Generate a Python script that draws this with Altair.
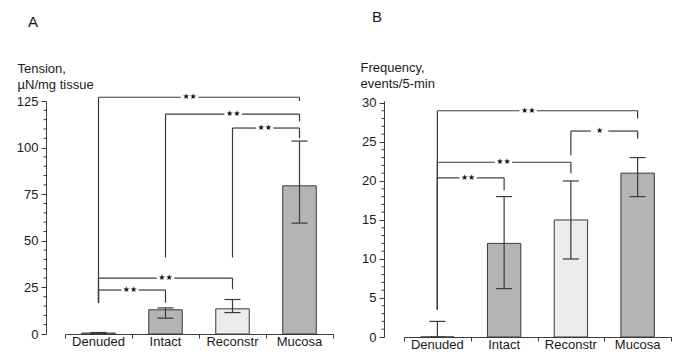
import altair as alt
import pandas as pd

categories = ["Denuded", "Intact", "Reconstr", "Mucosa"]
bar_colors = ["#b4b4b4", "#b4b4b4", "#ececec", "#b4b4b4"]

# Panel A: tension
tension_mean = [0.5, 13, 13.5, 79.5]
tension_low = [0.3, 8.5, 11.5, 59.5]
tension_high = [0.8, 14, 18.5, 103.5]
tension_major_ticks = [0, 25, 50, 75, 100, 125]
tension_minor_ticks = [v for v in range(0, 126, 5) if v % 25 != 0]
tension_axis_max = 125

tension_br_left = ["Denuded", "Intact", "Reconstr", "Denuded", "Denuded"]
tension_br_right = ["Mucosa", "Mucosa", "Mucosa", "Reconstr", "Intact"]
tension_br_level = [127, 118, 110.5, 30, 23.6]
tension_br_left_end = [16.6, 41, 41, 16.6, 16.6]
tension_br_right_end = [125, 114, 105, 24, 16.8]
tension_br_label = ["★★", "★★", "★★", "★★", "★★"]
tension_br_label_pos = [1.86, 2.51, 2.98, 1.5, 0.97]

# Panel B: frequency
freq_mean = [0, 12, 15, 21]
freq_low = [0, 6.2, 10, 18]
freq_high = [2, 18, 20, 23]
freq_major_ticks = [0, 5, 10, 15, 20, 25, 30]
freq_minor_ticks = [v for v in range(0, 31) if v % 5 != 0]
freq_axis_max = 30.25

freq_br_left = ["Denuded", "Reconstr", "Denuded", "Denuded"]
freq_br_right = ["Mucosa", "Mucosa", "Reconstr", "Intact"]
freq_br_level = [29, 26.4, 22.4, 20.4]
freq_br_left_end = [3.5, 23.3, 3.5, 3.5]
freq_br_right_end = [28, 25.4, 21, 18.8]
freq_br_label = ["★★", "★", "★★", "★★"]
freq_br_label_pos = [1.86, 2.93, 1.49, 0.96]

FONT = "Liberation Sans"
LINE = "#3a3a3a"
CAP = 0.12
GAP = 0.13


def panel(mean, low, high, major, minor, br_left, br_right, br_level, br_lend, br_rend,
          br_label, br_pos, ymax, width, height, ytitle,
          letter, yoffset, title_x, title_y, letter_dx, letter_offset):
    pos = {c: i + 0.5 for i, c in enumerate(categories)}
    bars = pd.DataFrame({
        "cat": categories,
        "x": [pos[c] - 0.25 for c in categories],
        "x2": [pos[c] + 0.25 for c in categories],
        "mean": mean,
    })
    segs = []
    for c, lo, hi in zip(categories, low, high):
        p = pos[c]
        segs.append((p, lo, p, hi))
        segs.append((p - CAP, hi, p + CAP, hi))
        segs.append((p - CAP, lo, p + CAP, lo))
    stars = []
    for l, r, lev, le, re, lab, lp in zip(br_left, br_right, br_level, br_lend,
                                          br_rend, br_label, br_pos):
        L, R = pos[l], pos[r]
        segs.append((L, lev, lp - GAP, lev))
        segs.append((lp + GAP, lev, R, lev))
        segs.append((L, lev, L, le))
        segs.append((R, lev, R, re))
        stars.append({"x": lp, "y": lev, "label": lab})
    segdf = pd.DataFrame(segs, columns=["x", "y", "x2", "y2"])
    stardf = pd.DataFrame(stars)
    labdf = pd.DataFrame({"cat": categories, "x": [pos[c] for c in categories], "y": [0] * 4})
    minordf = pd.DataFrame({"v": minor})

    xscale = alt.Scale(domain=[0, 4], nice=False, zero=False)
    yscale = alt.Scale(domain=[0, ymax], nice=False)
    xaxis = alt.Axis(values=[0, 1, 2, 3, 4], labels=False, title=None, grid=False,
                     tickSize=4, domainColor=LINE, tickColor=LINE)
    yaxis = alt.Axis(
        values=major, tickSize=5,
        offset=yoffset, grid=False, domainColor=LINE, tickColor=LINE,
        labelFontSize=13, labelColor="#1a1a1a", labelPadding=3, labelOverlap=False,
        labelBound=False, labelFlush=False,
        title=ytitle, titleAngle=0, titleAlign="left", titleBaseline="top",
        titleX=title_x, titleY=title_y, titleFontWeight="normal", titleFontSize=13,
        titleLineHeight=16, titleColor="#1a1a1a",
    )

    def X(f):
        return alt.X(f, type="quantitative", scale=xscale, axis=xaxis)

    def Y(f):
        return alt.Y(f, type="quantitative", scale=yscale, axis=yaxis)

    base_bars = alt.Chart(bars).mark_rect(stroke=LINE, strokeWidth=1).encode(
        x=X("x"), x2="x2:Q", y=Y("mean"), y2=alt.datum(0),
        fill=alt.Color("cat:N", scale=alt.Scale(domain=categories, range=bar_colors), legend=None),
    )
    minor_ticks = alt.Chart(minordf).mark_rule(color=LINE, strokeWidth=1).encode(
        x=alt.value(-yoffset - 2.5), x2=alt.value(-yoffset), y=Y("v")
    )
    rules = alt.Chart(segdf).mark_rule(color=LINE, strokeWidth=1.2).encode(
        x=X("x"), x2="x2:Q", y=Y("y"), y2="y2:Q"
    )
    startext = alt.Chart(stardf).mark_text(font="DejaVu Sans", fontSize=8, color="#111",
                                           baseline="middle", dy=0).encode(
        x=X("x"), y=Y("y"), text="label:N"
    )
    cattext = alt.Chart(labdf).mark_text(font=FONT, fontSize=13, color="#1a1a1a",
                                         baseline="top", dy=2).encode(
        x=X("x"), y=Y("y"), text="cat:N"
    )
    return alt.layer(base_bars, minor_ticks, rules, startext, cattext).properties(
        width=width, height=height,
        title=alt.TitleParams(letter, anchor="start", frame="group", dx=letter_dx,
                              offset=letter_offset,
                              fontSize=15, fontWeight="normal", font=FONT, color="#1a1a1a"),
    )


chart_a = panel(tension_mean, tension_low, tension_high, tension_major_ticks, tension_minor_ticks,
                tension_br_left, tension_br_right,
                tension_br_level, tension_br_left_end, tension_br_right_end,
                tension_br_label, tension_br_label_pos, tension_axis_max, 268, 233,
                ["Tension,", "µN/mg tissue"], "A", 19, -29, -39, -37, 32)
chart_b = panel(freq_mean, freq_low, freq_high, freq_major_ticks, freq_minor_ticks,
                freq_br_left, freq_br_right,
                freq_br_level, freq_br_left_end, freq_br_right_end,
                freq_br_label, freq_br_label_pos, freq_axis_max, 267, 236,
                ["Frequency,", "events/5-min"], "B", 20, -24, -40, -32, 36)

chart = alt.hconcat(chart_a, chart_b, spacing=26).properties(
    padding={"left": 8, "top": 2, "right": 0, "bottom": 0}
).configure(font=FONT).configure_view(stroke=None)

chart.save("out.html", embed_options={"renderer": "svg", "actions": False})
